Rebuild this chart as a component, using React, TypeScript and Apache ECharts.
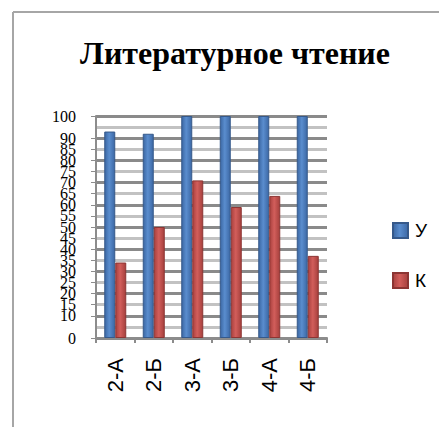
import React, { useEffect, useRef } from "react";
import * as echarts from "echarts";

const titleText = "Литературное чтение";
const categories = ["2-А", "2-Б", "3-А", "3-Б", "4-А", "4-Б"];
const seriesNames = ["У", "К"];
const valuesU = [93, 92, 100, 100, 100, 100];
const valuesK = [34, 50, 71, 59, 64, 37];

const blueGrad = new echarts.graphic.LinearGradient(0, 0, 1, 0, [
  { offset: 0, color: "#3b67a3" },
  { offset: 0.45, color: "#5a8dce" },
  { offset: 1, color: "#3c68a5" },
]);
const redGrad = new echarts.graphic.LinearGradient(0, 0, 1, 0, [
  { offset: 0, color: "#a9413f" },
  { offset: 0.45, color: "#d25e5b" },
  { offset: 1, color: "#a6403d" },
]);

export default function App() {
  const ref = useRef<HTMLDivElement>(null);
  useEffect(() => {
    if (!ref.current) return;
    const chart = echarts.init(ref.current, null, { renderer: "svg" });
    chart.setOption({
      animation: false,
      backgroundColor: "#ffffff",
      title: {
        text: titleText,
        left: 230,
        top: 32,
        textAlign: "center",
        textStyle: {
          fontFamily: "Liberation Serif",
          fontWeight: "bold",
          fontSize: 32,
          color: "#000",
        },
      },
      legend: {
        orient: "vertical",
        left: 387,
        top: 216,
        itemWidth: 15,
        itemHeight: 15,
        itemGap: 31,
        icon: "rect",
        data: seriesNames,
        textStyle: { fontFamily: "Liberation Sans", fontSize: 19, color: "#000", padding: [0, 0, 0, 2] },
      },
      grid: { left: 96, right: 112, top: 116, bottom: 89, containLabel: false },
      graphic: [
        { type: "line", shape: { x1: 13, y1: 12, x2: 439, y2: 12 }, style: { stroke: "#a6a6a6", lineWidth: 2 } },
        { type: "line", shape: { x1: 13, y1: 12, x2: 13, y2: 427 }, style: { stroke: "#a6a6a6", lineWidth: 2 } },
      ],
      xAxis: {
        type: "category",
        data: categories,
        axisLine: { lineStyle: { color: "#8c8c8c", width: 2 } },
        axisTick: { show: true, length: 5, lineStyle: { color: "#8c8c8c", width: 2 } },
        axisLabel: {
          rotate: 90,
          margin: 20,
          fontFamily: "Liberation Sans",
          fontSize: 22,
          color: "#000",
        },
      },
      yAxis: {
        type: "value",
        min: 0,
        max: 100,
        interval: 5,
        axisLine: { show: true, lineStyle: { color: "#8c8c8c", width: 2 } },
        axisTick: { show: true, length: 5, lineStyle: { color: "#8c8c8c" } },
        axisLabel: {
          margin: 20,
          showMinLabel: true,
          showMaxLabel: true,
          hideOverlap: false,
          fontFamily: "Liberation Serif",
          fontSize: 16,
          color: "#000",
        },
        splitLine: {
          show: true,
          lineStyle: { color: ["#8a8a8a", "#c2c2c2"], width: 3 },
        },
      },
      series: [
        {
          name: seriesNames[0],
          type: "bar",
          data: valuesU,
          barWidth: 11,
          barGap: "0%",
          itemStyle: { color: blueGrad, borderColor: "#36598a", borderWidth: 1 },
        },
        {
          name: seriesNames[1],
          type: "bar",
          data: valuesK,
          barWidth: 11,
          barGap: "0%",
          itemStyle: { color: redGrad, borderColor: "#8c3533", borderWidth: 1 },
        },
      ],
    });
    return () => chart.dispose();
  }, []);
  return (
    <div
      ref={ref}
      style={{ position: "fixed", left: 0, top: 0, width: 439, height: 427 }}
    />
  );
}
